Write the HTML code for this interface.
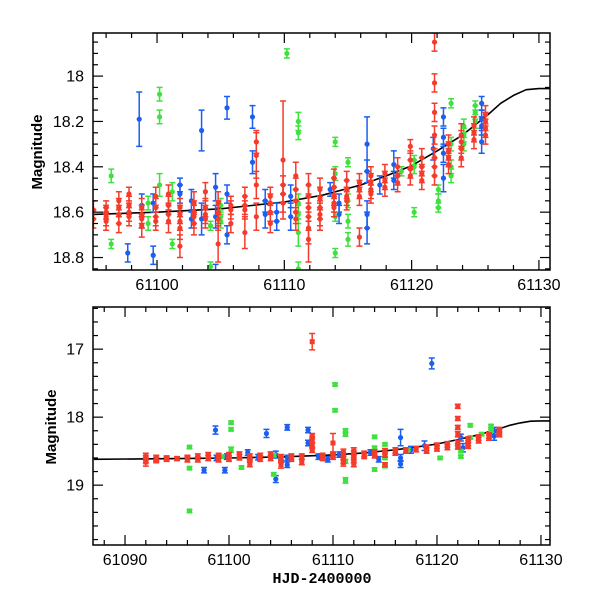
<!DOCTYPE html>
<html><head><meta charset="utf-8"><style>
html,body{margin:0;padding:0;background:#fff;}
svg{display:block;}
text{font-family:"Liberation Sans",sans-serif;}
</style></head><body>
<svg id="chart" width="600" height="600" viewBox="0 0 600 600" xmlns="http://www.w3.org/2000/svg">
<defs>
<clipPath id="clipTop"><rect x="93" y="33" width="457" height="237"/></clipPath>
<clipPath id="clipBot"><rect x="93" y="307" width="457" height="238"/></clipPath>
</defs>
<g id="top"></g>
<g id="bot"></g>
<text x="0" y="0" transform="translate(42,152) rotate(-90)" text-anchor="middle" font-size="15" font-weight="bold">Magnitude</text>
<text x="0" y="0" transform="translate(56,427) rotate(-90)" text-anchor="middle" font-size="15" font-weight="bold">Magnitude</text>
<text x="322" y="583" text-anchor="middle" font-size="15" font-weight="bold" style="font-family:'Liberation Mono',monospace">HJD-2400000</text>
</svg>
<script>
// ---- model curve data ----
const curveDays = [61087,61095,61100,61105,61110,61113,61116,61118,61120,61122,61124,61126,61127,61128,61129,61130,61131];
const curveMags = [18.62,18.61,18.60,18.585,18.555,18.525,18.48,18.44,18.395,18.33,18.26,18.17,18.12,18.085,18.06,18.055,18.055];

// ---- top panel data ----
const topBlueDays = [61098.6,61097.7,61098.8,61098.8,61099.7,61099.7,61101.8,61101.8,61102.7,61102.7,61103.5,61103.5,61104.6,61104.6,61104.6,61105.5,61105.5,61105.5,61107.5,61107.5,61108.5,61108.5,61109.4,61109.4,61110.5,61110.5,61113.6,61114.3,61114.3,61116.5,61116.5,61116.5,61116.5,61117.5,61118.6,61118.6,61121.7,61122.5,61122.5,61122.5,61122.5,61125.5,61125.5,61125.5,61125.5];
const topBlueMags = [18.19,18.78,18.62,18.57,18.79,18.56,18.48,18.52,18.55,18.63,18.24,18.63,18.49,18.62,18.88,18.14,18.52,18.70,18.18,18.38,18.55,18.61,18.60,18.64,18.53,18.62,18.50,18.56,18.61,18.30,18.42,18.61,18.67,18.48,18.39,18.46,18.32,18.18,18.27,18.34,18.45,18.12,18.22,18.29,18.19];
const topBlueErrs = [0.12,0.04,0.05,0.05,0.04,0.04,0.03,0.04,0.05,0.04,0.09,0.07,0.06,0.05,0.05,0.05,0.04,0.04,0.05,0.05,0.05,0.06,0.04,0.04,0.05,0.06,0.03,0.04,0.04,0.12,0.05,0.06,0.07,0.04,0.06,0.04,0.05,0.04,0.04,0.04,0.06,0.03,0.04,0.05,0.04];

const topGreenDays = [61096.4,61096.4,61100.2,61100.2,61100.2,61101.2,61101.2,61099.3,61099.3,61104.2,61104.2,61105.0,61105.0,61105.0,61110.2,61111.1,61111.1,61111.1,61111.1,61111.1,61111.1,61114.0,61114.0,61114.0,61114.0,61115.0,61115.0,61115.0,61115.0,61119.2,61120.2,61120.2,61120.2,61122.1,61122.1,61122.1,61123.1,61123.1,61123.1,61123.1,61124.1,61124.1,61124.1,61125.0,61125.0,61125.0];
const topGreenMags = [18.44,18.74,18.08,18.18,18.48,18.51,18.74,18.56,18.65,18.66,18.84,18.57,18.62,18.64,17.90,18.20,18.25,18.56,18.61,18.69,18.85,18.29,18.43,18.62,18.78,18.38,18.55,18.64,18.72,18.42,18.37,18.40,18.60,18.50,18.55,18.58,18.12,18.30,18.40,18.44,18.22,18.26,18.30,18.13,18.16,18.20];
const topGreenErrs = [0.03,0.02,0.03,0.03,0.05,0.04,0.02,0.03,0.03,0.02,0.02,0.03,0.03,0.03,0.02,0.04,0.03,0.04,0.04,0.06,0.03,0.02,0.03,0.02,0.02,0.02,0.03,0.03,0.03,0.02,0.02,0.03,0.02,0.02,0.03,0.02,0.02,0.03,0.03,0.03,0.03,0.03,0.03,0.02,0.03,0.03];

const topRedDays = [61095.0,61095.0,61096.0,61096.0,61096.0,61096.0,61097.0,61097.0,61097.0,61097.0,61097.8,61097.8,61097.8,61097.8,61098.8,61098.8,61098.8,61098.8,61099.9,61099.9,61099.9,61099.9,61100.9,61100.9,61100.9,61100.9,61101.8,61101.8,61101.8,61101.8,61101.8,61102.9,61102.9,61102.9,61102.9,61103.8,61103.8,61103.8,61103.8,61104.8,61104.8,61104.8,61104.8,61105.8,61105.8,61105.8,61106.9,61106.9,61106.9,61106.9,61107.8,61107.8,61107.8,61107.8,61108.9,61108.9,61108.9,61108.9,61109.9,61109.9,61109.9,61109.9,61110.9,61110.9,61110.9,61110.9,61110.9,61111.9,61111.9,61111.9,61111.9,61111.9,61111.9,61112.8,61112.8,61112.8,61112.8,61112.8,61113.9,61113.9,61113.9,61113.9,61113.9,61114.9,61114.9,61114.9,61114.9,61115.9,61115.9,61115.9,61115.9,61116.8,61116.8,61116.8,61116.8,61117.9,61117.9,61117.9,61118.9,61118.9,61118.9,61119.9,61119.9,61119.9,61119.9,61120.8,61120.8,61120.8,61120.8,61121.8,61121.8,61121.8,61121.8,61121.8,61121.8,61121.8,61122.9,61122.9,61122.9,61122.9,61123.9,61123.9,61123.9,61123.9,61124.9,61124.9,61124.9,61125.8,61125.8,61125.8,61125.8];
const topRedMags = [18.59,18.63,18.58,18.60,18.62,18.64,18.55,18.58,18.61,18.65,18.52,18.57,18.60,18.62,18.58,18.61,18.63,18.66,18.53,18.58,18.62,18.64,18.52,18.57,18.61,18.64,18.58,18.61,18.64,18.67,18.75,18.56,18.60,18.62,18.65,18.51,18.58,18.61,18.63,18.56,18.60,18.63,18.74,18.57,18.59,18.65,18.53,18.57,18.59,18.69,18.29,18.35,18.48,18.62,18.53,18.56,18.60,18.65,18.37,18.48,18.52,18.56,18.44,18.50,18.55,18.60,18.63,18.48,18.53,18.58,18.62,18.67,18.72,18.50,18.54,18.58,18.61,18.63,18.45,18.49,18.53,18.56,18.58,18.46,18.50,18.53,18.55,18.47,18.50,18.53,18.71,18.44,18.47,18.50,18.52,18.43,18.46,18.49,18.40,18.44,18.47,18.31,18.37,18.41,18.44,18.36,18.40,18.43,18.46,17.85,18.03,18.16,18.26,18.36,18.40,18.44,18.30,18.33,18.36,18.39,18.26,18.29,18.32,18.36,18.22,18.25,18.28,18.17,18.20,18.23,18.26];
const topRedErrs = [0.04,0.04,0.03,0.03,0.04,0.04,0.04,0.04,0.04,0.04,0.03,0.04,0.04,0.04,0.04,0.04,0.04,0.05,0.04,0.04,0.04,0.04,0.04,0.04,0.04,0.05,0.04,0.04,0.04,0.05,0.05,0.05,0.05,0.05,0.05,0.04,0.04,0.04,0.04,0.05,0.05,0.05,0.08,0.04,0.04,0.04,0.04,0.04,0.04,0.07,0.05,0.10,0.06,0.06,0.04,0.04,0.04,0.04,0.26,0.04,0.04,0.04,0.06,0.05,0.05,0.05,0.05,0.05,0.05,0.06,0.06,0.07,0.10,0.05,0.05,0.05,0.05,0.05,0.04,0.04,0.04,0.04,0.04,0.04,0.04,0.04,0.04,0.04,0.04,0.04,0.04,0.04,0.04,0.04,0.04,0.04,0.04,0.04,0.04,0.04,0.04,0.03,0.04,0.04,0.04,0.04,0.04,0.04,0.04,0.04,0.04,0.04,0.04,0.04,0.04,0.04,0.04,0.04,0.04,0.04,0.05,0.05,0.05,0.04,0.04,0.04,0.04,0.04,0.04,0.04,0.04];

// ---- bottom panel data ----
const botRedDays = [61092,61092,61092,61093,61093,61094,61094,61095,61096,61096,61097,61097,61098,61098,61099,61099,61100,61100,61101,61101,61102,61102,61102,61103,61103,61104,61104,61105,61105,61105,61106,61106,61107,61107,61108,61108,61108,61108,61108,61109,61109,61110,61110,61110,61111,61111,61111,61111,61112,61112,61112,61112,61113,61113,61114,61114,61115,61115,61115,61116,61116,61117,61118,61119,61119,61120,61120,61121,61121,61122,61122,61122,61122,61122,61122,61123,61123,61123,61124,61124,61125,61125,61126,61126,61126];
const botRedMags = [18.58,18.62,18.66,18.60,18.63,18.60,18.62,18.61,18.59,18.62,18.58,18.62,18.56,18.60,18.57,18.62,18.56,18.61,18.55,18.59,18.58,18.62,18.68,18.57,18.61,18.55,18.60,18.59,18.63,18.70,18.58,18.61,18.58,18.66,16.89,18.28,18.33,18.42,18.48,18.57,18.60,18.38,18.55,18.58,18.52,18.58,18.63,18.67,18.50,18.55,18.62,18.68,18.54,18.57,18.52,18.56,18.50,18.55,18.70,18.49,18.52,18.49,18.47,18.45,18.49,18.42,18.46,18.40,18.44,17.84,18.02,18.15,18.25,18.38,18.43,18.33,18.38,18.42,18.30,18.34,18.27,18.30,18.19,18.22,18.25];
const botRedErrs = [0.05,0.05,0.06,0.04,0.04,0.03,0.03,0.03,0.03,0.04,0.04,0.04,0.04,0.04,0.04,0.04,0.04,0.04,0.04,0.04,0.04,0.04,0.05,0.04,0.04,0.04,0.04,0.04,0.04,0.05,0.04,0.04,0.04,0.04,0.12,0.04,0.04,0.04,0.04,0.04,0.04,0.14,0.04,0.04,0.05,0.05,0.05,0.05,0.05,0.05,0.05,0.05,0.04,0.04,0.04,0.04,0.04,0.04,0.03,0.04,0.04,0.04,0.04,0.04,0.04,0.04,0.04,0.04,0.04,0.03,0.03,0.03,0.04,0.04,0.04,0.04,0.04,0.04,0.04,0.04,0.04,0.04,0.04,0.04,0.04];

const botBlueDays = [61098.7,61097.6,61099.6,61103.6,61104.5,61105.6,61107.6,61107.6,61093,61098.8,61099.8,61101.8,61102.8,61104.5,61105.6,61105.6,61108.6,61109.5,61110.6,61113.6,61114.4,61116.5,61116.5,61116.5,61119.5,61117.5,61118.8,61122.3,61122.5,61125.5,61125.5];
const botBlueMags = [18.19,18.78,18.78,18.24,18.91,18.15,18.19,18.38,18.62,18.60,18.58,18.52,18.59,18.55,18.60,18.70,18.58,18.62,18.55,18.52,18.62,18.30,18.60,18.69,17.21,18.48,18.42,18.30,18.45,18.20,18.28];
const botBlueErrs = [0.06,0.04,0.04,0.06,0.05,0.04,0.04,0.04,0.03,0.04,0.04,0.04,0.04,0.05,0.04,0.04,0.04,0.04,0.04,0.04,0.04,0.12,0.05,0.05,0.08,0.05,0.07,0.05,0.06,0.05,0.06];

const botGreenDays = [61096.2,61096.2,61096.2,61100.2,61100.2,61100.2,61101.2,61099.3,61104.3,61104.3,61105,61110.2,61110.2,61111.2,61111.2,61111.2,61111.2,61114.0,61114.0,61114.0,61115.0,61115.0,61115.0,61117.2,61120.3,61122.3,61122.3,61123.2,61123.2,61124.3,61125.2,61125.2];
const botGreenMags = [18.44,18.75,19.38,18.08,18.18,18.48,18.74,18.58,18.56,18.84,18.60,17.52,17.90,18.20,18.25,18.65,18.93,18.29,18.45,18.77,18.40,18.60,18.72,18.48,18.60,18.50,18.58,18.12,18.30,18.25,18.13,18.20];
const botGreenErrs = [0.02,0.02,0.02,0.02,0.02,0.04,0.02,0.02,0.02,0.02,0.02,0.02,0.02,0.03,0.03,0.03,0.04,0.02,0.02,0.02,0.02,0.02,0.02,0.02,0.02,0.02,0.02,0.02,0.02,0.02,0.02,0.02];

const topXTicks = [61100,61110,61120,61130];
const topYTicks = [18,18.2,18.4,18.6,18.8];
const botXTicks = [61090,61100,61110,61120,61130];
const botYTicks = [17,18,19];

const NS = "http://www.w3.org/2000/svg";
const RED="#f53b2b", BLUE="#1a5ff0", GREEN="#3ee23e";

function mk(tag, attrs, parent){
  const e=document.createElementNS(NS,tag);
  for(const k in attrs) e.setAttribute(k,attrs[k]);
  parent.appendChild(e); return e;
}

function panel(g, cfg){
  const {L,R,T,B,x0,x1,y0,y1,clip} = cfg;
  const sx = d => L + (d-x0)/(x1-x0)*(R-L);
  const sy = m => T + (m-y0)/(y1-y0)*(B-T);
  const plot = mk("g",{"clip-path":"url(#"+clip+")"},g);
  
  
  let d="";
  curveDays.forEach((c,i)=>{ d += (i?"L":"M")+sx(c).toFixed(1)+","+sy(curveMags[i]).toFixed(1); });
  const cp = mk("path",{d:d,fill:"none",stroke:"#000","stroke-width":1.6,"stroke-linejoin":"round"},plot);
  
  
  cfg.series.forEach(s=>{
    const sg = mk("g",{},plot);
    
    
    s.days.forEach((dd,i)=>{
      const x=sx(dd), y=sy(s.mags[i]), e=s.errs[i]*(B-T)/(y1-y0);
      const pg = mk("g",{},sg);
      
      
      mk("path",{d:`M${x},${y-e}V${y+e}M${x-3},${y-e}H${x+3}M${x-3},${y+e}H${x+3}`,stroke:s.color,"stroke-width":1.5,fill:"none"},pg);
      if(s.square) mk("rect",{x:x-2.5,y:y-2.5,width:5,height:5,fill:s.color},pg);
      else mk("circle",{cx:x,cy:y,r:2.6,fill:s.color},pg);
    });
  });
  const fr = mk("rect",{x:L,y:T,width:R-L,height:B-T,fill:"none",stroke:"#000","stroke-width":1.5},g);
  
  
  const tg = mk("g",{stroke:"#000","stroke-width":1.2},g);
  
  
  for(let v=Math.ceil(x0/cfg.xMinor)*cfg.xMinor; v<=x1; v+=cfg.xMinor){
    const x=sx(v); const major = Math.abs(v/10-Math.round(v/10))<1e-6; const len=major?10:5;
    mk("line",{x1:x,x2:x,y1:B,y2:B-len},tg); mk("line",{x1:x,x2:x,y1:T,y2:T+len},tg);
  }
  const nMin=Math.ceil(Math.min(y0,y1)/cfg.yMinor-1e-6), nMax=Math.floor(Math.max(y0,y1)/cfg.yMinor+1e-6);
  for(let n=nMin;n<=nMax;n++){
    const v=n*cfg.yMinor; const y=sy(v);
    const major = cfg.yTicks.some(t=>Math.abs(t-v)<1e-6); const len=major?10:5;
    mk("line",{x1:L,x2:L+len,y1:y,y2:y},tg); mk("line",{x1:R,x2:R-len,y1:y,y2:y},tg);
  }
  cfg.xTicks.forEach(v=>{
    const t=mk("text",{x:sx(v),y:B+20,"text-anchor":"middle","font-size":16},g);
    t.textContent=v;
    
    
  });
  cfg.yTicks.forEach(v=>{
    const t=mk("text",{x:L-9,y:sy(v)+5.5,"text-anchor":"end","font-size":16},g);
    t.textContent=v;
    
    
  });
}

panel(document.getElementById("top"),{
  name:"top",L:93,R:550,T:33,B:270,x0:61094.97,x1:61130.87,y0:17.81,y1:18.855,clip:"clipTop",
  xMinor:2,yMinor:0.05,xTicks:topXTicks,yTicks:topYTicks,
  series:[
    {label:"blue",days:topBlueDays,mags:topBlueMags,errs:topBlueErrs,color:BLUE},
    {label:"green",days:topGreenDays,mags:topGreenMags,errs:topGreenErrs,color:GREEN},
    {label:"red",days:topRedDays,mags:topRedMags,errs:topRedErrs,color:RED}
  ]
});
panel(document.getElementById("bot"),{
  name:"bottom",L:93,R:550,T:307,B:545,x0:61086.92,x1:61130.87,y0:16.38,y1:19.88,clip:"clipBot",
  xMinor:2,yMinor:0.2,xTicks:botXTicks,yTicks:botYTicks,
  series:[
    {label:"blue",days:botBlueDays,mags:botBlueMags,errs:botBlueErrs,color:BLUE},
    {label:"green",days:botGreenDays,mags:botGreenMags,errs:botGreenErrs,color:GREEN,square:true},
    {label:"red",days:botRedDays,mags:botRedMags,errs:botRedErrs,color:RED,square:true}
  ]
});
</script>
</body></html>
